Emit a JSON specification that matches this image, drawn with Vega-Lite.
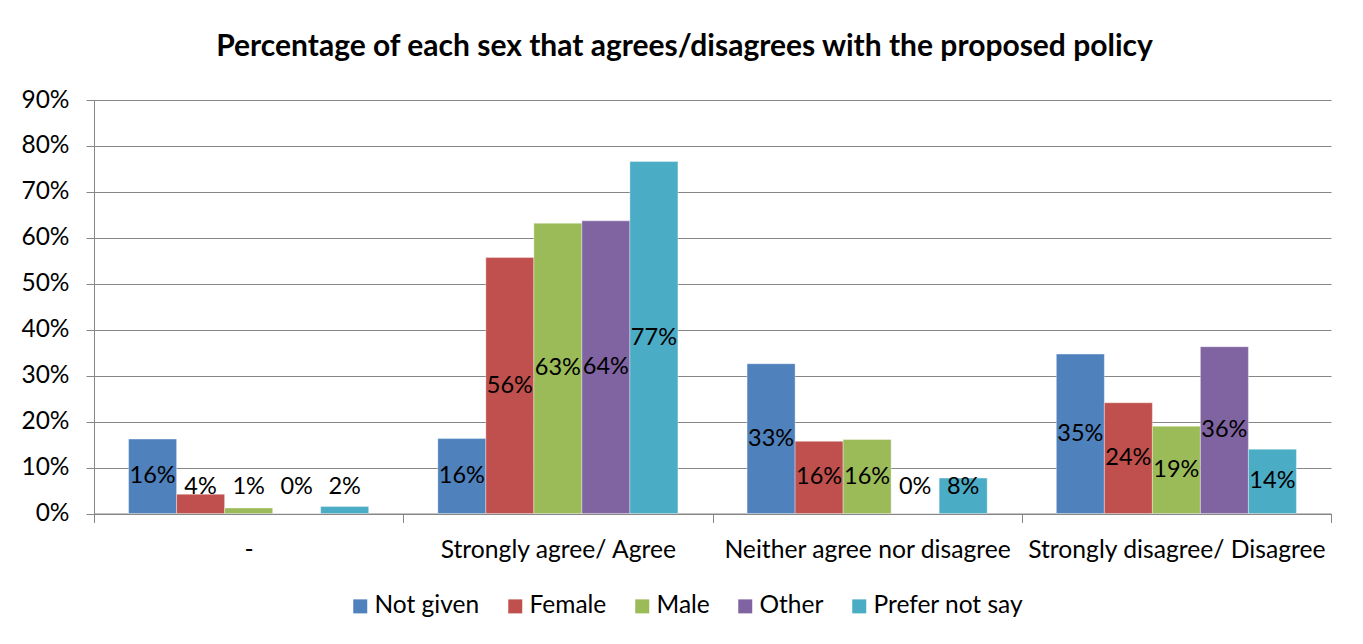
{
  "$schema": "https://vega.github.io/schema/vega-lite/v6.json",
  "autosize": "none",
  "width": 1237,
  "height": 413.5,
  "padding": {"left": 94, "top": 100, "right": 32, "bottom": 130.5},
  "background": "white",
  "config": {
    "view": {"stroke": null},
    "font": "Lato"
  },
  "title": {
    "text": "Percentage of each sex that agrees/disagrees with the proposed policy",
    "font": "Lato",
    "fontSize": 30,
    "fontWeight": "bold",
    "color": "#000000",
    "offset": 25,
    "dx": -28
  },
  "data": {
    "values": [
      {"response": "-", "sex": "Not given", "pct": 0.162},
      {"response": "-", "sex": "Female", "pct": 0.042},
      {"response": "-", "sex": "Male", "pct": 0.012},
      {"response": "-", "sex": "Other", "pct": 0.0},
      {"response": "-", "sex": "Prefer not say", "pct": 0.015},
      {"response": "Strongly agree/ Agree", "sex": "Not given", "pct": 0.163},
      {"response": "Strongly agree/ Agree", "sex": "Female", "pct": 0.557},
      {"response": "Strongly agree/ Agree", "sex": "Male", "pct": 0.632},
      {"response": "Strongly agree/ Agree", "sex": "Other", "pct": 0.637},
      {"response": "Strongly agree/ Agree", "sex": "Prefer not say", "pct": 0.766},
      {"response": "Neither agree nor disagree", "sex": "Not given", "pct": 0.326},
      {"response": "Neither agree nor disagree", "sex": "Female", "pct": 0.157},
      {"response": "Neither agree nor disagree", "sex": "Male", "pct": 0.161},
      {"response": "Neither agree nor disagree", "sex": "Other", "pct": 0.0},
      {"response": "Neither agree nor disagree", "sex": "Prefer not say", "pct": 0.077},
      {"response": "Strongly disagree/ Disagree", "sex": "Not given", "pct": 0.347},
      {"response": "Strongly disagree/ Disagree", "sex": "Female", "pct": 0.241},
      {"response": "Strongly disagree/ Disagree", "sex": "Male", "pct": 0.19},
      {"response": "Strongly disagree/ Disagree", "sex": "Other", "pct": 0.363},
      {"response": "Strongly disagree/ Disagree", "sex": "Prefer not say", "pct": 0.14}
    ]
  },
  "encoding": {
    "x": {
      "field": "response",
      "type": "nominal",
      "sort": ["-", "Strongly agree/ Agree", "Neither agree nor disagree", "Strongly disagree/ Disagree"],
      "scale": {"paddingInner": 0, "paddingOuter": 0},
      "axis": {
        "title": null,
        "labelAngle": 0,
        "labelFont": "Lato",
        "labelFontSize": 24.7,
        "labelColor": "#000000",
        "labelPadding": 15,
        "labelLimit": 0,
        "tickBand": "extent",
        "tickSize": 9,
        "tickColor": "#868686",
        "domainColor": "#868686",
        "grid": false
      }
    },
    "xOffset": {
      "field": "sex",
      "type": "nominal",
      "sort": ["Not given", "Female", "Male", "Other", "Prefer not say"],
      "scale": {"paddingOuter": 0.72, "paddingInner": 0}
    }
  },
  "layer": [
    {
      "mark": {"type": "bar", "stroke": "white", "strokeWidth": 0.6, "strokeOpacity": 0.6},
      "encoding": {
        "y": {
          "field": "pct",
          "type": "quantitative",
          "scale": {"domain": [0, 0.9], "nice": false},
          "axis": {
            "title": null,
            "format": ".0%",
            "values": [0, 0.1, 0.2, 0.3, 0.4, 0.5, 0.6, 0.7, 0.8, 0.9],
            "labelFont": "Lato",
            "labelFontSize": 24.5,
            "labelColor": "#000000",
            "labelPadding": 17,
            "tickSize": 8,
            "tickColor": "#868686",
            "domainColor": "#868686",
            "grid": true,
            "gridColor": "#868686",
            "gridWidth": 1.2
          }
        },
        "color": {
          "field": "sex",
          "type": "nominal",
          "scale": {
            "domain": ["Not given", "Female", "Male", "Other", "Prefer not say"],
            "range": ["#4F81BD", "#C0504D", "#9BBB59", "#8064A2", "#4BACC6"]
          },
          "legend": {
            "title": null,
            "orient": "none",
            "legendX": 254,
            "legendY": 494,
            "direction": "horizontal",
            "symbolType": "square",
            "symbolSize": 196,
            "symbolStrokeWidth": 0,
            "labelFont": "Lato",
            "labelFontSize": 24.5,
            "labelColor": "#000000",
            "labelOffset": 2,
            "columnPadding": 23,
            "labelLimit": 0
          }
        }
      }
    },
    {
      "transform": [{"calculate": "max(datum.pct / 2, 0.058)", "as": "labelPos"}],
      "mark": {"type": "text", "font": "Lato", "fontSize": 23.5, "color": "#000000", "baseline": "middle", "align": "center"},
      "encoding": {
        "y": {"field": "labelPos", "type": "quantitative"},
        "text": {"field": "pct", "type": "quantitative", "format": ".0%"}
      }
    }
  ]
}
